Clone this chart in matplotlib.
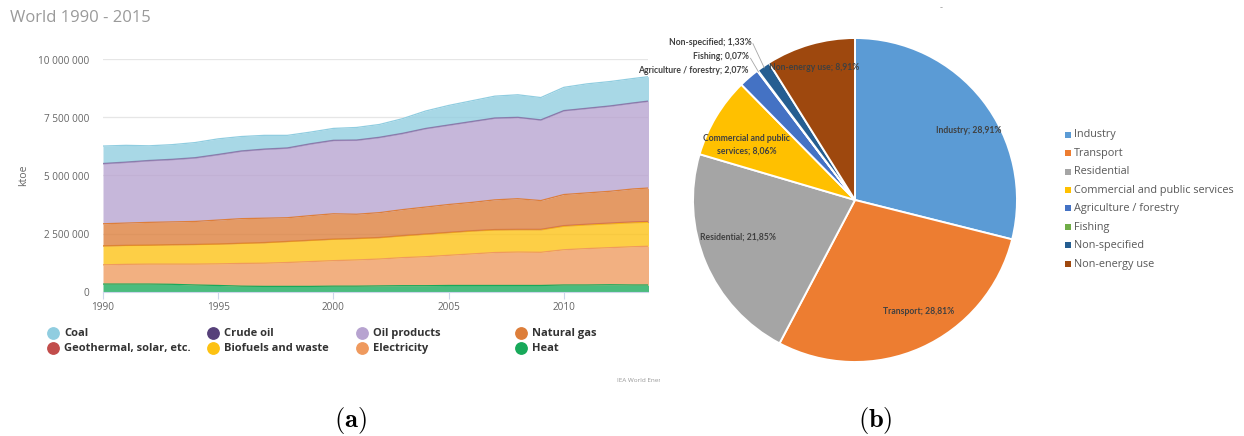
import numpy as np
import matplotlib
matplotlib.use("Agg")
import matplotlib.pyplot as plt
from matplotlib.lines import Line2D
from matplotlib.patches import Rectangle

plt.rcParams["mathtext.fontset"] = "cm"

# ---------------- data: world final consumption by source (ktoe) ----------------
years = list(range(1990, 2015))
heat = [320, 320, 320, 310, 280, 260, 230, 220, 220, 220, 230, 230, 240, 250, 250,
        260, 260, 260, 260, 260, 280, 280, 290, 280, 280]
electricity = [830, 850, 860, 870, 900, 930, 980, 1000, 1030, 1070, 1100, 1130, 1160,
               1210, 1250, 1300, 1360, 1420, 1440, 1430, 1520, 1570, 1600, 1650, 1680]
biofuels = [812, 812, 811, 831, 841, 850, 860, 879, 899, 908, 918, 917, 916, 935, 964,
            973, 981, 969, 957, 965, 1012, 1019, 1026, 1033, 1030]
geothermal = [8, 8, 9, 9, 9, 10, 10, 11, 11, 12, 12, 13, 14, 15, 16, 17, 19, 21, 23, 25,
              28, 31, 34, 37, 40]
natural_gas = [950, 960, 980, 980, 990, 1030, 1060, 1050, 1020, 1060, 1090, 1040, 1070,
               1120, 1160, 1200, 1220, 1280, 1320, 1240, 1340, 1350, 1370, 1420, 1450]
oil_products = [2580, 2610, 2651, 2681, 2732, 2812, 2902, 2963, 2993, 3083, 3154, 3184,
                3234, 3274, 3375, 3415, 3475, 3515, 3496, 3466, 3606, 3636, 3666, 3696, 3756]
crude_oil = [20, 20, 19, 19, 18, 18, 18, 17, 17, 17, 16, 16, 16, 16, 15, 15, 15, 15, 14,
             14, 14, 14, 14, 14, 14]
coal = [750, 720, 630, 630, 650, 670, 620, 590, 540, 500, 510, 540, 550, 630, 750, 840,
        890, 940, 970, 960, 1000, 1050, 1050, 1050, 1050]
# values above are in thousands of ktoe
source_scale = 1000

legend_labels = ["Coal", "Crude oil", "Oil products", "Natural gas",
                 "Geothermal, solar, etc.", "Biofuels and waste", "Electricity", "Heat"]
y_ticks = [0, 2500000, 5000000, 7500000, 10000000]
y_tick_labels = ["0", "2 500 000", "5 000 000", "7 500 000", "10 000 000"]
x_ticks = [1990, 1995, 2000, 2005, 2010]

# ---------------- data: final consumption by sector (%) ----------------
sectors = ["Industry", "Transport", "Residential", "Commercial and public services",
           "Agriculture / forestry", "Fishing", "Non-specified", "Non-energy use"]
shares = [28.91, 28.81, 21.85, 8.06, 2.07, 0.07, 1.33, 8.91]

# ---------------- styles ----------------
src_colors = {
    "Coal": "#90cde0", "Crude oil": "#56407a", "Oil products": "#b7a3d0",
    "Natural gas": "#dd7e3a", "Geothermal, solar, etc.": "#c24d4b",
    "Biofuels and waste": "#fdc212", "Electricity": "#ef9a5e", "Heat": "#18a95a",
}
line_alpha = {"Crude oil": 0.45, "Geothermal, solar, etc.": 0.5}
sector_colors = ["#5b9bd5", "#ed7d31", "#a5a5a5", "#ffc000", "#4472c4", "#70ad47",
                 "#255e91", "#9e480e"]

W, H = 1244, 436
fig = plt.figure(figsize=(W / 100, H / 100), dpi=100)


def fx(px):
    return px / W


def fy(py):
    return 1 - py / H


# ================= (a) stacked area =================
ax = fig.add_axes([fx(103), fy(291.5), fx(648) - fx(103), fy(59.5) - fy(291.5)])
stack_order = [("Heat", heat), ("Electricity", electricity),
               ("Biofuels and waste", biofuels), ("Geothermal, solar, etc.", geothermal),
               ("Natural gas", natural_gas), ("Oil products", oil_products),
               ("Crude oil", crude_oil), ("Coal", coal)]
x = np.array(years, dtype=float)
base = np.zeros(len(years))
for name, vals in stack_order:
    v = np.array(vals, dtype=float) * source_scale
    top = base + v
    ax.fill_between(x, base, top, color=src_colors[name], alpha=0.78, lw=0, zorder=2)
    ax.plot(x, top, color=src_colors[name], lw=0.9, alpha=line_alpha.get(name, 1.0),
            zorder=3)
    base = top

ax.set_xlim(1990, 2013.65)
ax.set_ylim(0, 10000000)
ax.set_yticks(y_ticks)
ax.set_yticklabels(y_tick_labels)
ax.set_xticks(x_ticks)
ax.set_xticklabels([str(t) for t in x_ticks])
ax.grid(axis="y", color="#e6e6e6", lw=0.9, zorder=0)
ax.set_axisbelow(True)
for s in ["left", "right", "top"]:
    ax.spines[s].set_visible(False)
ax.spines["bottom"].set_color("#ccd6eb")
ax.spines["bottom"].set_zorder(5)
ax.tick_params(axis="y", length=0, pad=10, labelsize=7.2, labelcolor="#666666")
ax.tick_params(axis="x", length=5, width=0.8, color="#ccd6eb", pad=2.5,
               labelsize=7.2, labelcolor="#666666")
for lab in ax.get_xticklabels() + ax.get_yticklabels():
    lab.set_family("Open Sans")
ax.set_ylabel("ktoe", fontsize=7.5, color="#666666", family="Open Sans", labelpad=6)

fig.text(fx(10), fy(18), "World 1990 - 2015", fontsize=12, color="#9a9a9a",
         family="Open Sans", va="center", ha="left")

# legend, 4 columns x 2 rows
col_x = [53, 213, 362, 521]
row_y = [333, 348]
for i, name in enumerate(legend_labels):
    cx = col_x[i % 4]
    cy = row_y[i // 4]
    fig.add_artist(Line2D([fx(cx)], [fy(cy)], marker="o", markersize=8.2,
                          color=src_colors[name], lw=0))
    fig.text(fx(cx + 11), fy(cy), name, fontsize=8, fontweight="bold",
             color="#333333", family="Open Sans", va="center", ha="left")

# source credit, cut at the panel edge
ax_note = fig.add_axes([0, 0, fx(660), 1])
ax_note.set_axis_off()
ax_note.text(fx(617) / fx(660), fy(380), "IEA World Energy Balances", fontsize=4.6,
             color="#999999", family="Open Sans", va="center", ha="left",
             transform=ax_note.transAxes, clip_on=True)

fig.text(fx(350), fy(420), r"$\mathbf{(a)}$", fontsize=19, ha="center", va="center")

# ================= (b) pie =================
cx, cy, r = 855, 200, 162
axp = fig.add_axes([fx(cx - r), fy(cy + r), fx(2 * r), fy(cy - r) - fy(cy + r)])
wedges, _ = axp.pie(shares, colors=sector_colors, startangle=90, counterclock=False,
                    radius=1.0, wedgeprops=dict(edgecolor="white", linewidth=1.4))
axp.set_xlim(-1, 1)
axp.set_ylim(-1, 1)
axp.set_axis_off()


def pct(v):
    return f"{v:.2f}".replace(".", ",") + "%"


lab_style = dict(fontsize=6.2, fontweight="bold", color="#404040", family="Lato")
inner_pos = {0: (0.70, 0.43), 1: (0.39, -0.69), 2: (-0.72, -0.23),
             3: (-0.67, 0.34), 7: (-0.25, 0.82)}
for i, (xx, yy) in inner_pos.items():
    name = sectors[i]
    if i == 3:
        txt = "Commercial and public\nservices; " + pct(shares[i])
    else:
        txt = f"{name}; {pct(shares[i])}"
    axp.text(xx, yy, txt, ha="center", va="center", linespacing=1.45, **lab_style)

outer_pos = {6: (-0.64, 0.975), 5: (-0.655, 0.885), 4: (-0.655, 0.80)}
for i, (xx, yy) in outer_pos.items():
    axp.text(xx, yy, f"{sectors[i]}; {pct(shares[i])}", ha="right", va="center",
             clip_on=False, **lab_style)
    w = wedges[i]
    mid = np.deg2rad((w.theta1 + w.theta2) / 2)
    if i in (5, 6):
        axp.plot([xx + 0.01, np.cos(mid) * 0.99], [yy - 0.01, np.sin(mid) * 0.99],
                 color="#a6a6a6", lw=0.6, clip_on=False)

# sector legend
for i, name in enumerate(sectors):
    yy = 134.5 + i * 18.5
    fig.add_artist(Rectangle((fx(1065), fy(yy + 3)), fx(6), fy(yy - 3) - fy(yy + 3),
                             color=sector_colors[i], lw=0))
    fig.text(fx(1074), fy(yy), name, fontsize=7.8, color="#595959",
             family="Open Sans", va="center", ha="left")

fig.text(fx(941), fy(8), "-", fontsize=6, color="#9a9a9a", ha="center", va="center")
fig.text(fx(875), fy(420), r"$\mathbf{(b)}$", fontsize=19, ha="center", va="center")

fig.savefig("out.png", dpi=100)
